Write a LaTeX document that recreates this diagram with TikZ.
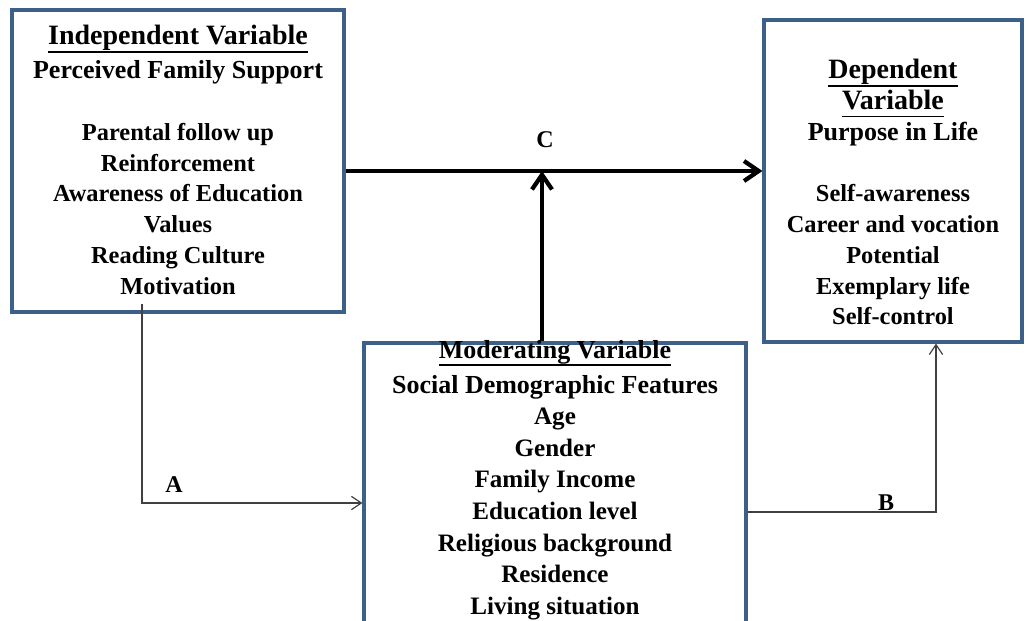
\documentclass[tikz,border=0pt]{standalone}
\usepackage{fontspec}
\setmainfont{Liberation Serif}
\usepackage{tikz}
\usetikzlibrary{arrows.meta,positioning}
\definecolor{boxblue}{RGB}{60,96,136}
\newcommand{\varuline}[1]{\leavevmode\vtop{\hbox{#1\vphantom{p}}\kern0.4pt\hrule height 1.1pt}}
\newcommand{\vartitle}[1]{{\fontsize{21}{22.9}\selectfont\varuline{#1}}}
\newcommand{\varsub}[1]{{\fontsize{19.5}{22.9}\selectfont #1}}
\tikzset{
  varbox/.style={draw=boxblue, line width=2.3pt, fill=white, inner sep=0pt},
  boxtext/.style={align=center, inner sep=0pt, outer sep=0pt,
    font=\bfseries\fontsize{18.3}{23.1}\selectfont},
  midtext/.style={boxtext, font=\bfseries\fontsize{18.8}{23.7}\selectfont},
  mainarr/.style={-{Straight Barb[length=11pt,width=15pt,line width=3.2pt]}, line width=3.5pt},
  thinarr/.style={-{Straight Barb[length=7.5pt,width=10pt,line width=0.9pt]}, line width=0.9pt, draw=black!75},
  pathlbl/.style={font=\bfseries\fontsize{18}{20}\selectfont, inner sep=0pt}
}
\begin{document}
\begin{tikzpicture}[x=0.75pt, y=-0.75pt]
  \useasboundingbox (0,0) rectangle (1029,621);
  \clip (0,0) rectangle (1029,621);
  % the three variable boxes
  \node[varbox, minimum width=249pt, minimum height=226.5pt] (iv) at (178,161) {};
  \node[varbox, minimum width=193.5pt, minimum height=241.5pt] (dv) at (893,181) {};
  \node[varbox, minimum width=286.5pt, minimum height=225pt] (mv) at (555,493) {};
  \node[boxtext, below=12.5pt of iv.north] (ivtext) {\vartitle{Independent Variable}\\[2.5pt]
    \varsub{Perceived Family Support}\\[23.1pt]
    Parental follow up\\ Reinforcement\\ Awareness of Education\\
    Values\\ Reading Culture\\ Motivation};
  \node[boxtext, below=30.5pt of dv.north] (dvtext) {\vartitle{Dependent}\\ \vartitle{Variable}\\
    \varsub{Purpose in Life}\\[23.1pt]
    Self-awareness\\ Career and vocation\\ Potential\\ Exemplary life\\ Self-control};
  \node[midtext, below=-1pt of mv.north] (mvtext) {{\fontsize{19.5}{23.7}\selectfont\varuline{Moderating Variable}}\\[2.5pt]
    \varsub{Social Demographic Features}\\
    Age\\ Gender\\ Family Income\\ Education level\\ Religious background\\
    Residence\\ Living situation};
  % paths
  \coordinate (cjoin) at (542,171);
  \coordinate (abend) at (142,503);
  \coordinate (bbend) at (936,512);
  \draw[mainarr] (iv.east |- cjoin) -- (dv.west |- cjoin);
  \draw[mainarr] (mv.north -| cjoin) -- (cjoin);
  \draw[thinarr] ([yshift=7pt]iv.south -| abend) -- (abend) -- (mv.west |- abend);
  \draw[thinarr] (mv.east |- bbend) -- (bbend) -- (dv.south -| bbend);
  \node[pathlbl] (clab) at (545,140) {C};
  \node[pathlbl] (alab) at (174,485) {A};
  \node[pathlbl] (blab) at (886,503) {B};
\end{tikzpicture}
\end{document}
